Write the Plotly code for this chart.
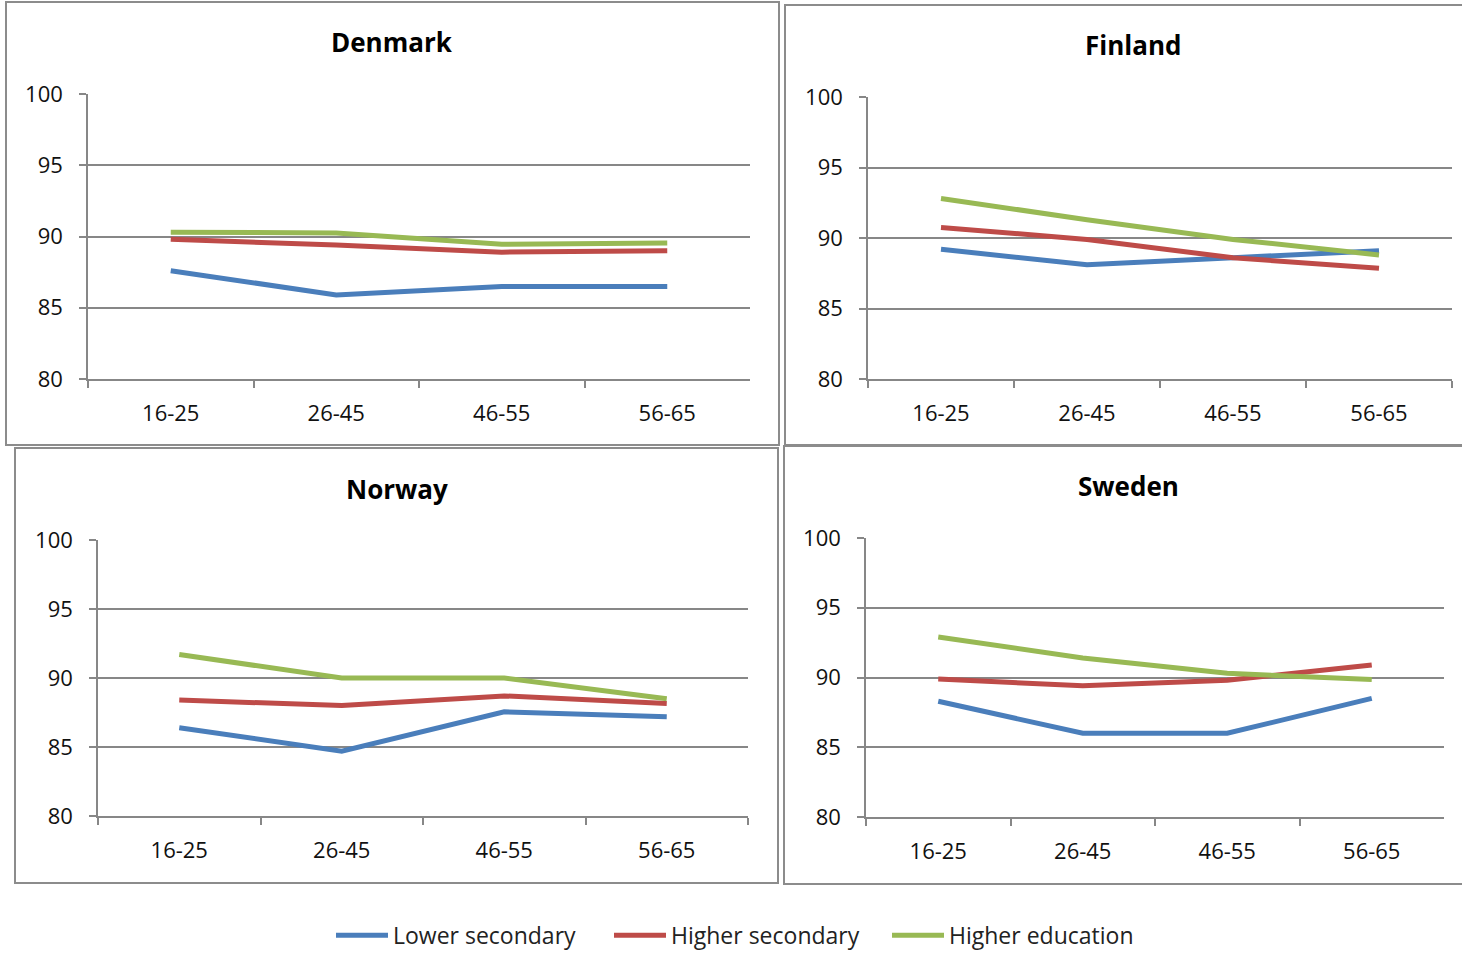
import plotly.graph_objects as go

W, H = 1462, 953

age_groups = ["16-25", "26-45", "46-55", "56-65"]
series_names = ["Lower secondary", "Higher secondary", "Higher education"]
series_colors = ["#4A7EBB", "#BE4B48", "#98B954"]

denmark_lower = [87.6, 85.9, 86.5, 86.5]
denmark_higher_sec = [89.8, 89.4, 88.9, 89.0]
denmark_higher_edu = [90.3, 90.25, 89.45, 89.55]

finland_lower = [89.2, 88.1, 88.6, 89.1]
finland_higher_sec = [90.75, 89.9, 88.6, 87.85]
finland_higher_edu = [92.8, 91.3, 89.9, 88.8]

norway_lower = [86.4, 84.7, 87.55, 87.2]
norway_higher_sec = [88.4, 88.0, 88.7, 88.15]
norway_higher_edu = [91.7, 90.0, 90.0, 88.5]

sweden_lower = [88.3, 86.0, 86.0, 88.5]
sweden_higher_sec = [89.9, 89.4, 89.8, 90.9]
sweden_higher_edu = [92.9, 91.4, 90.3, 89.85]

y_ticks = [80, 85, 90, 95, 100]

panels = [
    ("Denmark", [denmark_lower, denmark_higher_sec, denmark_higher_edu]),
    ("Finland", [finland_lower, finland_higher_sec, finland_higher_edu]),
    ("Norway", [norway_lower, norway_higher_sec, norway_higher_edu]),
    ("Sweden", [sweden_lower, sweden_higher_sec, sweden_higher_edu]),
]

# layout geometry in pixels
plot_boxes = [(88, 750, 94, 379), (868, 1452, 97, 379), (98, 748, 540, 816), (866, 1444, 538, 817)]
frame_boxes = [(6, 779, 2, 445), (785, 1470, 5, 445), (15, 778, 448, 883), (784, 1470, 446, 884)]
title_pos = [(392, 42), (1133, 45), (397, 489), (1128, 486)]

FONT = "Open Sans"
GRID = "#878787"

def px(x):
    return x / W

def py(y):
    return 1 - y / H

fig = go.Figure()
layout = dict(
    width=W, height=H,
    margin=dict(l=0, r=0, t=0, b=0, autoexpand=False),
    paper_bgcolor="white", plot_bgcolor="white",
    font=dict(family=FONT, color="#000000"),
    showlegend=True,
    legend=dict(
        orientation="h", x=px(331), xanchor="left", y=-0.004, yanchor="bottom",
        font=dict(family=FONT, size=23, color="#222222"),
        entrywidth=211, itemwidth=52, bgcolor="rgba(0,0,0,0)",
    ),
    shapes=[], annotations=[],
)

for i, (name, data) in enumerate(panels):
    xa = "x" if i == 0 else f"x{i+1}"
    ya = "y" if i == 0 else f"y{i+1}"
    for j, vals in enumerate(data):
        fig.add_trace(go.Scatter(
            x=age_groups, y=vals, mode="lines",
            name=series_names[j], legendgroup=series_names[j],
            showlegend=(i == 0),
            line=dict(color=series_colors[j], width=5),
            xaxis=xa, yaxis=ya,
        ))
    x0, x1, y0, y1 = plot_boxes[i]
    xkey = "xaxis" if i == 0 else f"xaxis{i+1}"
    ykey = "yaxis" if i == 0 else f"yaxis{i+1}"
    layout[xkey] = dict(
        domain=[px(x0), px(x1)], anchor=ya, type="category",
        categoryorder="array", categoryarray=age_groups,
        range=[-0.5, 3.5], tickson="boundaries", ticks="outside", ticklen=7,
        tickcolor=GRID, tickwidth=1.5, showgrid=False, showline=True,
        linecolor=GRID, linewidth=1.5, zeroline=False,
        tickfont=dict(family=FONT, size=22, color="#111111"), ticklabelstandoff=14,
        fixedrange=True,
    )
    layout[ykey] = dict(
        domain=[py(y1), py(y0)], anchor=xa, range=[80, 100],
        tickvals=y_ticks, ticks="outside", ticklen=7, tickcolor=GRID, tickwidth=1.5,
        showgrid=True, gridcolor=GRID, gridwidth=1.5, showline=True,
        linecolor=GRID, linewidth=1.5, zeroline=False,
        tickfont=dict(family=FONT, size=22, color="#111111"), ticklabelstandoff=12,
        fixedrange=True,
    )
    fx0, fx1, fy0, fy1 = frame_boxes[i]
    layout["shapes"].append(dict(
        type="rect", xref="paper", yref="paper",
        x0=px(fx0), x1=px(fx1), y0=py(fy1), y1=py(fy0),
        line=dict(color="#8C8C8C", width=2), fillcolor="rgba(0,0,0,0)", layer="below",
    ))
    tx, ty = title_pos[i]
    layout["annotations"].append(dict(
        text=f"<b>{name}</b>", xref="paper", yref="paper", x=px(tx), y=py(ty),
        xanchor="center", yanchor="middle", showarrow=False,
        font=dict(family=FONT, size=26, color="#000000"),
    ))

fig.update_layout(**layout)
fig.write_html("out.html", config={"displayModeBar": False},
               post_script="document.body.style.margin='0';document.body.style.overflow='hidden';")
